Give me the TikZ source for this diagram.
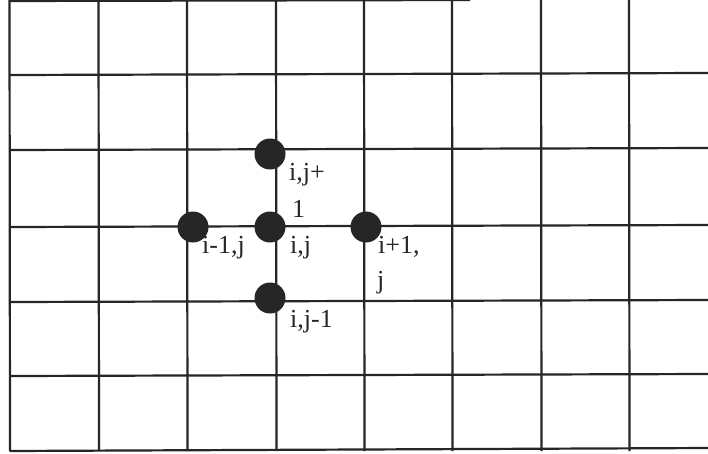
\documentclass[tikz,border=0pt]{standalone}
\usepackage{fontspec}
\setmainfont{Liberation Serif}
\begin{document}
\begin{tikzpicture}[x=1pt,y=-1pt,
  gridline/.style={line width=2.2pt,black!85},
  meshpt/.style={circle,fill=black!85,inner sep=0pt,minimum size=31pt},
  lbl/.style={anchor=base west,inner sep=0pt,font=\fontsize{26}{30}\selectfont,text=black!85}]
\useasboundingbox (0,0) rectangle (708,453);
\fill[white] (0,0) rectangle (708,453);
% vertical lines
\foreach \x in {9.5,98.5,187,276,364,452,541,629}
  \draw[gridline] (\x,0) -- (\x+0.5,451);
% horizontal lines
\draw[gridline] (9.5,1) -- (470,0);
\foreach \y in {75,150,227,302,376}
  \draw[gridline] (9.5,\y) -- (708,\y-2);
\draw[gridline] (9.5,451) -- (708,448);
% mesh points
\node[meshpt] (n) at (270,154) {};
\node[meshpt] (w) at (193,227) {};
\node[meshpt] (c) at (270,227) {};
\node[meshpt] (e) at (366,227) {};
\node[meshpt] (s) at (270,298) {};
% labels
\node[lbl] (ln1) at (289,180) {i,j+};
\node[lbl] (ln2) at (292,217) {1};
\node[lbl] (lw) at (202,253) {i-1,j};
\node[lbl] (lc) at (290,253) {i,j};
\node[lbl] (le1) at (378,253) {i+1,};
\node[lbl] (le2) at (377,288) {j};
\node[lbl] (ls) at (290,327) {i,j-1};
\end{tikzpicture}
\end{document}
